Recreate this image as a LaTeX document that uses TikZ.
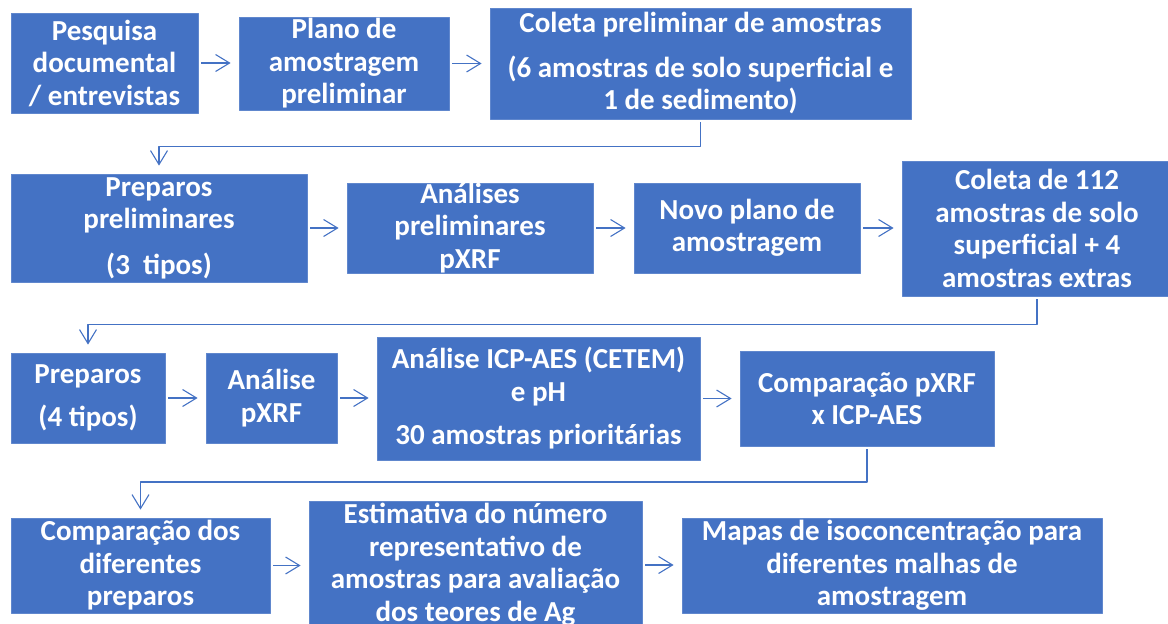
\documentclass[tikz,border=0pt]{standalone}
\usepackage{fontspec}
\setmainfont{Carlito}
\usetikzlibrary{arrows.meta,calc}
\definecolor{azul}{HTML}{4472C4}
\begin{document}
\begin{tikzpicture}[x=1pt,y=-1pt,>={Straight Barb[length=14pt,width=17pt]},line join=round,
	etapa/.style={fill=azul,draw=azul!85!white,line width=.8pt,text=white,align=center,inner sep=0pt,
		font=\bfseries\fontsize{29}{32.5}\selectfont},
	seta/.style={->,draw=azul,line width=1.1pt,shorten <=3pt,shorten >=8pt}]
	\useasboundingbox (0,0) rectangle (1168,624);
	% linha 1
	\node[etapa,minimum width=187pt,minimum height=100pt] (pesq) at (104.5,63) {Pesquisa\\documental\\/ entrevistas};
	\node[etapa,minimum width=210pt,minimum height=93pt] (plano) at (344,63.5) {Plano de\\amostragem\\preliminar};
	\node[etapa,minimum width=421pt,minimum height=111pt] (colprel) at (700.5,63.5) {Coleta preliminar de amostras\\[12pt](6 amostras de solo superficial e\\1 de sedimento)};
	% linha 2
	\node[etapa,minimum width=296pt,minimum height=108pt] (prepprel) at (159,228) {Preparos\\preliminares\\[13pt](3~~tipos)};
	\node[etapa,minimum width=246pt,minimum height=90pt] (analprel) at (470,228) {Análises\\preliminares\\pXRF};
	\node[etapa,minimum width=226pt,minimum height=90pt] (novo) at (747,228) {Novo plano de\\amostragem};
	\node[etapa,minimum width=270pt,minimum height=135pt] (col112) at (1037,228.5) {Coleta de 112\\amostras de solo\\superficial + 4\\amostras extras};
	% linha 3
	\node[etapa,minimum width=154pt,minimum height=90pt] (prep) at (88,398) {Preparos\\[10pt](4 tipos)};
	\node[etapa,minimum width=131pt,minimum height=90pt] (pxrf) at (271.5,398) {Análise\\pXRF};
	\node[etapa,minimum width=323pt,minimum height=123pt] (icp) at (538.5,398.5) {Análise ICP-AES (CETEM)\\e pH\\[11pt]30 amostras prioritárias};
	\node[etapa,minimum width=254pt,minimum height=95pt] (comp) at (867,398.5) {Comparação pXRF\\x ICP-AES};
	% linha 4
	\node[etapa,minimum width=259pt,minimum height=95pt] (compprep) at (140.5,565.5) {Comparação dos\\diferentes\\preparos};
	\node[etapa,minimum width=333pt,minimum height=128pt] (estim) at (475.5,565) {Estimativa do número\\representativo de\\amostras para avaliação\\dos teores de Ag};
	\node[etapa,minimum width=420pt,minimum height=95pt] (mapas) at (892,565.5) {Mapas de isoconcentração para\\diferentes malhas de\\amostragem};
	% setas
	\draw[seta] (pesq.east)--(pesq.east-|plano.west);
	\draw[seta] (plano.east)--(plano.east-|colprel.west);
	\draw[seta] (prepprel.east)--(prepprel.east-|analprel.west);
	\draw[seta] (analprel.east)--(analprel.east-|novo.west);
	\draw[seta] (novo.east)--(novo.east-|col112.west);
	\draw[seta] (prep.east)--(prep.east-|pxrf.west);
	\draw[seta] (pxrf.east)--(pxrf.east-|icp.west);
	\draw[seta] (icp.east)--(icp.east-|comp.west);
	\draw[seta] (compprep.east)--(compprep.east-|estim.west);
	\draw[seta] (estim.east)--(estim.east-|mapas.west);
	\coordinate (m1) at ($(colprel.south)!.5!(prepprel.north)$);
	\coordinate (m2) at ($(col112.south)!.5!(prep.north)$);
	\coordinate (m3) at ($(comp.south)!.5!(compprep.north)$);
	\draw[seta] (colprel.south)|-(m1)-|(prepprel.north);
	\draw[seta] (col112.south)|-(m2)-|(prep.north);
	\draw[seta] (comp.south)|-(m3)-|(compprep.north);
\end{tikzpicture}
\end{document}
